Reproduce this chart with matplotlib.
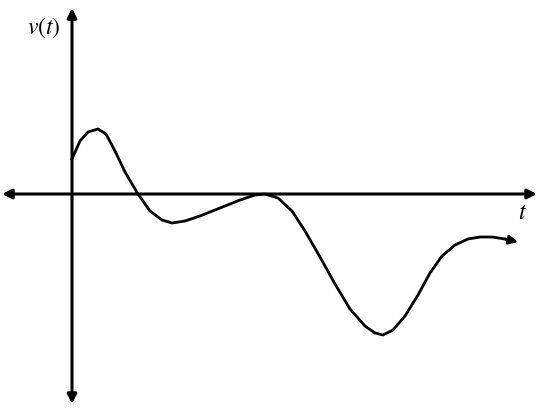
import matplotlib.pyplot as plt

plt.rcParams['mathtext.fontset'] = 'stix'

# curve (t to the right, v upward)
t = [0, 8, 16, 26, 34, 43, 53, 66, 78, 90, 100, 113, 128, 148, 168, 183, 193,
     206, 220, 233, 248, 263, 278, 293, 303, 311, 321, 333, 346, 358, 370,
     383, 396, 408, 420, 433, 446]
v = [35, 53, 62, 65, 60, 43, 22, 0, -17, -26, -29, -27, -22, -14, -6, -1, 0,
     -4, -17, -37, -63, -90, -115, -132, -139, -141, -136, -122, -101, -79,
     -62, -51, -45, -43, -43, -45, -48]

fig = plt.figure(figsize=(5.5, 4.14), dpi=100)
ax = fig.add_axes([0, 0, 1, 1])
ax.set_xlim(-72, 478)
ax.set_ylim(-219, 195)
ax.axis('off')

arrow = dict(arrowstyle='<|-|>', lw=2.2, color='black', mutation_scale=14, shrinkA=0, shrinkB=0)
ax.annotate('', xy=(465, 0), xytext=(-70, 0), arrowprops=arrow)
ax.annotate('', xy=(0, 186), xytext=(0, -210), arrowprops=arrow)

ax.plot(t[:-1], v[:-1], color='black', lw=2, solid_joinstyle='round')
ax.annotate('', xy=(t[-1], v[-1]), xytext=(t[-2], v[-2]),
            arrowprops=dict(arrowstyle='-|>', lw=2, color='black', mutation_scale=13, shrinkA=0, shrinkB=0))

ax.text(-28, 167, r'$v(t)$', fontsize=17, ha='center', va='center')
ax.text(450, -17, r'$t$', fontsize=17, ha='center', va='center')

fig.savefig('out.png', dpi=100)
